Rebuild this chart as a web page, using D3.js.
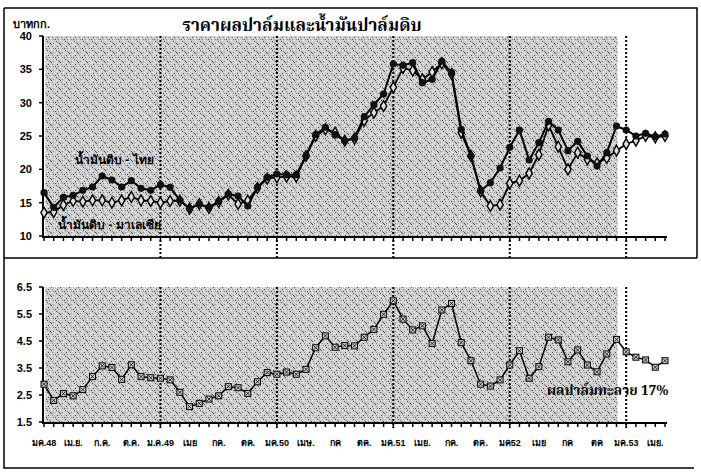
<!DOCTYPE html>
<html>
<head>
<meta charset="utf-8">
<script src="https://cdn.jsdelivr.net/npm/d3@7"></script>
<style>
  body { margin: 0; background: #fff; }
  svg { display: block; }
  text { font-family: "Liberation Sans", Arial, sans-serif; }
</style>
</head>
<body>
<svg id="chart" width="701" height="472"></svg>
<script>
// monthly, ม.ค.48 (Jan 2005) .. พ.ค.53 (May 2010)
var thaiOil = [16.5, 14.3, 15.8, 16.1, 16.85, 17.35, 19.0, 18.4, 17.35, 18.3,
    17.15, 16.85, 17.7, 17.3, 15.4, 14.1, 14.8, 14.3, 15.2, 16.3,
    16.0, 14.5, 17.3, 18.8, 19.3, 19.2, 19.2, 22.0, 25.2, 26.3,
    25.2, 24.3, 24.7, 27.9, 29.7, 31.3, 35.8, 35.6, 36.0, 33.0,
    33.5, 36.2, 34.5, 26.0, 22.0, 16.8, 18.0, 20.2, 23.3, 25.9,
    21.4, 24.0, 27.2, 25.9, 22.8, 24.2, 22.0, 20.5, 22.5, 26.5,
    25.9, 25.0, 25.4, 24.9, 25.3];
var malayOil = [13.5, 13.6, 14.65, 15.25, 15.15, 15.35, 15.35, 15.0, 15.35, 15.85,
    15.35, 15.25, 15.0, 15.25, 15.3, 14.1, 14.8, 14.2, 15.1, 16.2,
    14.8, 15.3, 17.2, 18.6, 18.8, 18.9, 18.9, 22.0, 25.0, 26.0,
    25.5, 24.3, 24.6, 27.3, 28.5, 29.5, 32.3, 35.2, 34.8, 33.5,
    34.6, 35.9, 34.3, 25.5, 22.0, 16.7, 14.5, 14.7, 17.9, 18.3,
    19.4, 22.2, 26.6, 23.4, 20.0, 22.5, 21.5, 20.9, 21.7, 22.8,
    23.8, 24.3, 25.0, 24.8, 25.0];
var ffb = [2.9, 2.3, 2.55, 2.47, 2.7, 3.18, 3.58, 3.52, 3.08, 3.62,
    3.18, 3.14, 3.12, 3.06, 2.6, 2.07, 2.19, 2.35, 2.47, 2.81,
    2.77, 2.56, 2.99, 3.33, 3.27, 3.35, 3.27, 3.45, 4.25, 4.69,
    4.27, 4.33, 4.32, 4.64, 4.93, 5.49, 5.99, 5.31, 4.91, 5.06,
    4.41, 5.65, 5.89, 4.44, 3.77, 2.9, 2.83, 3.06, 3.61, 4.14,
    3.12, 3.55, 4.64, 4.54, 3.73, 4.17, 3.61, 3.36, 4.02, 4.56,
    4.1, 3.9, 3.8, 3.53, 3.77];
var quarterLabels = ['มค.48', 'เม.ย.', 'ก.ค.', 'ต.ค.', 'ม.ค.49', 'เมย', 'กค.', 'ตค.',
    'มค.50', 'เมษ.', 'กค', 'ตค.', 'มค.51', 'เมย.', 'กค.', 'ตค.',
    'มค52', 'เมย', 'กค', 'ตค', 'มค.53', 'เมย.'];
var yearStarts = [12, 24, 36, 48, 60];
var topTicks = [10, 15, 20, 25, 30, 35, 40];
var bottomTicks = [1.5, 2.5, 3.5, 4.5, 5.5, 6.5];

var svg = d3.select('#chart');
var n = ffb.length;
var x = d3.scaleLinear().domain([0, n - 1]).range([44, 665]);
var yTop = d3.scaleLinear().domain([10, 40]).range([236, 36]);
var yBot = d3.scaleLinear().domain([1.5, 6.5]).range([422, 287]);

// speckled grey like the scanned background
var defs = svg.append('defs');
var pat = defs.append('pattern')
    .attr('id', 'speckle')
    .attr('patternUnits', 'userSpaceOnUse')
    .attr('width', 9)
    .attr('height', 9);
pat.append('rect').attr('width', 9).attr('height', 9).style('fill', '#cecece');
var dots = [[0, 0], [3, 1], [7, 1], [5, 2], [1, 3], [8, 3], [6, 4], [2, 5], [4, 6],
    [0, 6], [5, 7], [8, 7], [2, 8], [6, 8], [4, 3]];
dots.forEach(function(p, i) {
    pat.append('rect')
        .attr('x', p[0]).attr('y', p[1])
        .attr('width', 1).attr('height', 1)
        .style('fill', i % 3 === 0 ? '#f4f4f4' : (i % 3 === 1 ? '#4a4a4a' : '#888'));
});

// frame
svg.append('path')
    .attr('d', 'M4,8 H697 V258 M4,8 V468 H694 M4,258 H697')
    .style('fill', 'none')
    .style('stroke', '#000')
    .style('stroke-width', 1.5);

svg.append('rect')
    .attr('x', x(0) + 1).attr('y', yTop(40))
    .attr('width', x(59) - x(0)).attr('height', yTop(10) - yTop(40))
    .style('fill', 'url(#speckle)');
svg.append('rect')
    .attr('x', x(0) + 1).attr('y', yBot(6.5))
    .attr('width', x(59) - x(0)).attr('height', yBot(1.5) - yBot(6.5))
    .style('fill', 'url(#speckle)');

// year separators
yearStarts.forEach(function(i) {
    svg.append('line')
        .attr('x1', x(i)).attr('x2', x(i))
        .attr('y1', yTop(40)).attr('y2', 258)
        .style('stroke', '#000').style('stroke-width', 2)
        .style('stroke-dasharray', '2,2');
    svg.append('line')
        .attr('x1', x(i)).attr('x2', x(i))
        .attr('y1', yBot(6.5)).attr('y2', yBot(1.5) + 6)
        .style('stroke', '#000').style('stroke-width', 2)
        .style('stroke-dasharray', '2,2');
});

function drawAxes(y, ticks, fmt) {
    var g = svg.append('g');
    g.append('line')
        .attr('x1', x(0) - 1).attr('x2', x(0) - 1)
        .attr('y1', y.range()[1]).attr('y2', y.range()[0] + 1)
        .style('stroke', '#000').style('stroke-width', 2);
    g.append('line')
        .attr('x1', x(0) - 2).attr('x2', x(n - 1) + 2)
        .attr('y1', y.range()[0] + 1).attr('y2', y.range()[0] + 1)
        .style('stroke', '#000').style('stroke-width', 2);
    d3.range(0, n).forEach(function(i) {
        g.append('line')
            .attr('x1', x(i)).attr('x2', x(i))
            .attr('y1', y.range()[0] + 1).attr('y2', y.range()[0] + 5)
            .style('stroke', '#000').style('stroke-width', 1.5);
    });
    ticks.forEach(function(t) {
        g.append('line')
            .attr('x1', x(0) - 5).attr('x2', x(0) - 1)
            .attr('y1', y(t)).attr('y2', y(t))
            .style('stroke', '#000').style('stroke-width', 1.5);
        g.append('text')
            .attr('x', 32).attr('y', y(t) + 4)
            .attr('text-anchor', 'end')
            .style('font-size', 11).style('font-weight', 'bold')
            .text(fmt(t));
    });
}
drawAxes(yTop, topTicks, function(d) { return d; });
drawAxes(yBot, bottomTicks, d3.format('.1f'));

// month labels
quarterLabels.forEach(function(s, j) {
    svg.append('text')
        .attr('x', x(j * 3)).attr('y', 446)
        .attr('text-anchor', 'middle')
        .style('font-size', 9).style('font-weight', 'bold')
        .text(s);
});

var lineTop = function(vals) {
    return d3.line().x(function(d, i) { return x(i); }).y(function(d) { return yTop(d); })(vals);
};

// Malaysia - open diamonds
svg.append('path')
    .attr('d', lineTop(malayOil))
    .style('fill', 'none').style('stroke', '#000').style('stroke-width', 1.8);
malayOil.forEach(function(v, i) {
    svg.append('path')
        .attr('d', d3.symbol().type(d3.symbolDiamond).size(34)())
        .attr('transform', 'translate(' + x(i) + ',' + yTop(v) + ')')
        .style('fill', '#ddd').style('stroke', '#000').style('stroke-width', 1.4);
});

// Thailand - filled circles
svg.append('path')
    .attr('d', lineTop(thaiOil))
    .style('fill', 'none').style('stroke', '#000').style('stroke-width', 2);
thaiOil.forEach(function(v, i) {
    svg.append('circle')
        .attr('cx', x(i)).attr('cy', yTop(v)).attr('r', 3.6)
        .style('fill', '#111');
});

// FFB price
svg.append('path')
    .attr('d', d3.line().x(function(d, i) { return x(i); }).y(function(d) { return yBot(d); })(ffb))
    .style('fill', 'none').style('stroke', '#000').style('stroke-width', 1.5);
ffb.forEach(function(v, i) {
    var cx = x(i), cy = yBot(v);
    svg.append('rect')
        .attr('x', cx - 3).attr('y', cy - 3)
        .attr('width', 6).attr('height', 6)
        .style('fill', '#ccc').style('stroke', '#000').style('stroke-width', 1);
    svg.append('path')
        .attr('d', 'M' + (cx - 2) + ',' + (cy - 2) + 'L' + (cx + 2) + ',' + (cy + 2) +
            'M' + (cx + 2) + ',' + (cy - 2) + 'L' + (cx - 2) + ',' + (cy + 2))
        .style('stroke', '#000').style('stroke-width', 0.8);
});

// texts
svg.append('text')
    .attr('x', 302).attr('y', 31)
    .attr('text-anchor', 'middle')
    .style('font-family', '"Noto Serif Thai", "Noto Sans Thai", "DejaVu Serif", serif')
    .style('font-size', 17).style('font-weight', 'bold')
    .text('ราคาผลปาล์มและน้ำมันปาล์มดิบ');
svg.append('text')
    .attr('x', 13).attr('y', 28)
    .style('font-size', 11).style('font-weight', 'bold')
    .text('บาทกก.');
svg.append('text')
    .attr('x', 75).attr('y', 164)
    .style('font-size', 12).style('font-weight', 'bold')
    .text('น้ำมันดิบ - ไทย');
svg.append('text')
    .attr('x', 58).attr('y', 229)
    .style('font-size', 12).style('font-weight', 'bold')
    .text('น้ำมันดิบ - มาเลเซีย');
svg.append('text')
    .attr('x', 547).attr('y', 395)
    .style('font-family', '"Noto Serif Thai", "DejaVu Serif", serif')
    .style('font-size', 13.5).style('font-weight', 'bold')
    .text('ผลปาล์มทะลาย 17%');
</script>
</body>
</html>
